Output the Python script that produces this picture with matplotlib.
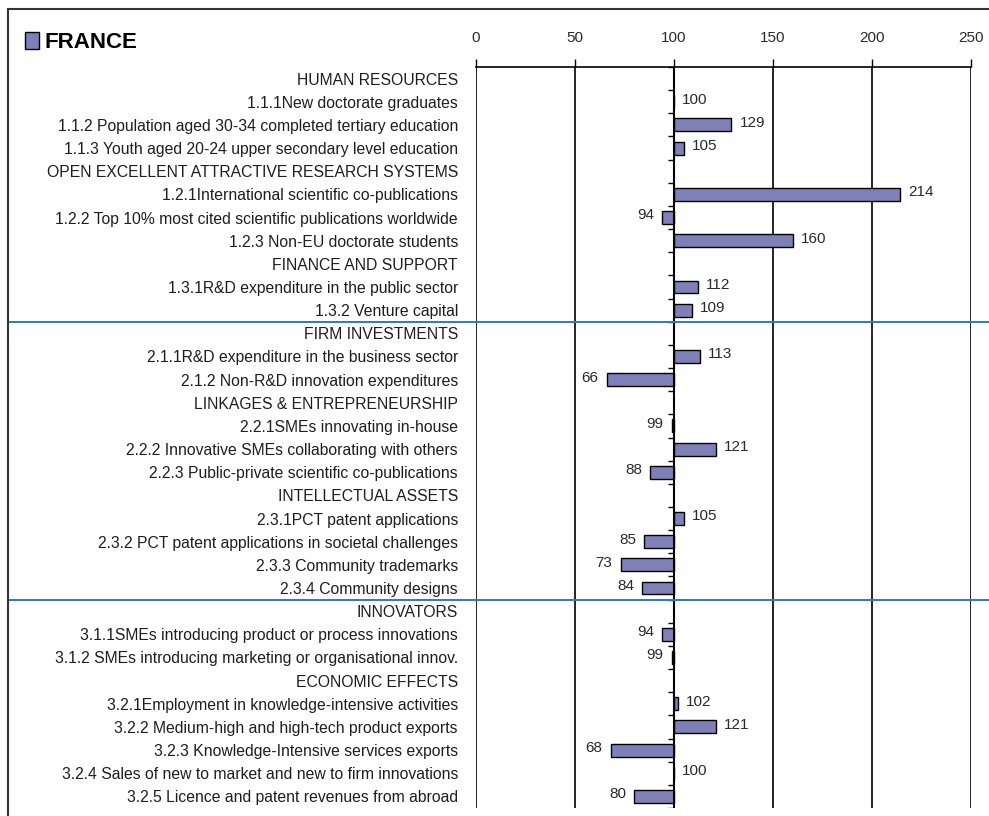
import numpy as np
import matplotlib
matplotlib.use("Agg")
import matplotlib.pyplot as plt
from matplotlib.patches import Rectangle
from matplotlib.transforms import blended_transform_factory

plt.rcParams['font.family'] = ['Liberation Sans', 'DejaVu Sans']

# Indicator labels (section headers have no value)
labels = [
    "HUMAN RESOURCES",
    "1.1.1New doctorate graduates",
    "1.1.2 Population aged 30-34 completed tertiary education",
    "1.1.3 Youth aged 20-24 upper secondary level education",
    "OPEN EXCELLENT ATTRACTIVE RESEARCH SYSTEMS",
    "1.2.1International scientific co-publications",
    "1.2.2 Top 10% most cited scientific publications worldwide",
    "1.2.3 Non-EU doctorate students",
    "FINANCE AND SUPPORT",
    "1.3.1R&D expenditure in the public sector",
    "1.3.2 Venture capital",
    "FIRM INVESTMENTS",
    "2.1.1R&D expenditure in the business sector",
    "2.1.2 Non-R&D innovation expenditures",
    "LINKAGES & ENTREPRENEURSHIP",
    "2.2.1SMEs innovating in-house",
    "2.2.2 Innovative SMEs collaborating with others",
    "2.2.3 Public-private scientific co-publications",
    "INTELLECTUAL ASSETS",
    "2.3.1PCT patent applications",
    "2.3.2 PCT patent applications in societal challenges",
    "2.3.3 Community trademarks",
    "2.3.4 Community designs",
    "INNOVATORS",
    "3.1.1SMEs introducing product or process innovations",
    "3.1.2 SMEs introducing marketing or organisational innov.",
    "ECONOMIC EFFECTS",
    "3.2.1Employment in knowledge-intensive activities",
    "3.2.2 Medium-high and high-tech product exports",
    "3.2.3 Knowledge-Intensive services exports",
    "3.2.4 Sales of new to market and new to firm innovations",
    "3.2.5 Licence and patent revenues from abroad",
]

values = [None, 100, 129, 105,
          None, 214, 94, 160,
          None, 112, 109,
          None, 113, 66,
          None, 99, 121, 88,
          None, 105, 85, 73, 84,
          None, 94, 99,
          None, 102, 121, 68, 100, 80]

# headers that start a new pillar (blue separator above them)
pillar_starts = ["FIRM INVESTMENTS", "INNOVATORS"]

country = "FRANCE"
baseline = 100
xticks = [0, 50, 100, 150, 200, 250]

bar_color = "#8080B8"
txt_color = "#1e1e1e"

rows = np.arange(len(labels))
vals = np.array([np.nan if v is None else v for v in values], dtype=float)

fig = plt.figure(figsize=(9.89, 8.16), dpi=100)
ax = fig.add_axes([476 / 989, 1 - 808 / 816, 495 / 989, (808 - 67) / 816])

bars = ax.barh(rows, vals - baseline, left=baseline, height=0.56,
               color=bar_color, edgecolor="black", linewidth=1.0,
               label=country, zorder=3)

# value labels
for i, v in enumerate(vals):
    if np.isnan(v):
        continue
    if v >= baseline:
        ax.annotate(f"{v:.0f}", (v, i), xytext=(6, 1.5), textcoords="offset points",
                    ha="left", va="center", fontsize=11, color="#2a2a2a")
    else:
        ax.annotate(f"{v:.0f}", (v, i), xytext=(-6, 1.5), textcoords="offset points",
                    ha="right", va="center", fontsize=11, color="#2a2a2a")

ax.set_xlim(0, 250)
ax.set_ylim(len(labels) - 0.5, -0.5)

ax.xaxis.tick_top()
ax.set_xticks(xticks)
ax.tick_params(axis="x", direction="out", length=6, width=1, pad=10,
               labelsize=11, colors="black", labelcolor="#2a2a2a")
ax.grid(axis="x", color="black", linewidth=1.2, zorder=1)

ax.set_yticks(rows)
ax.set_yticklabels(labels, fontsize=11.3, color=txt_color)
ax.tick_params(axis="y", length=0, pad=13)

for s in ["left", "right", "bottom"]:
    ax.spines[s].set_visible(False)
ax.spines["top"].set_linewidth(1.2)

# category axis at 100 with small ticks between rows
ax.axvline(baseline, color="black", linewidth=1.5, zorder=4)
ax.hlines(np.arange(-0.5, len(labels)), baseline - 3, baseline,
          color="black", linewidth=1, zorder=4)

# blue pillar separators across the whole figure
trans = blended_transform_factory(fig.transFigure, ax.transData)
for name in pillar_starts:
    y = labels.index(name) - 0.5
    ax.plot([10 / 989, 1.0], [y, y], transform=trans, color="#2f78c4",
            linewidth=1.4, clip_on=False, zorder=5)

# legend as title
fig.legend(handles=[bars], loc="upper left", bbox_to_anchor=(0.005, 0.985),
           frameon=False, prop={"weight": "bold", "size": 16},
           handlelength=0.65, handleheight=0.8, handletextpad=0.25)

# outer frame
fig.add_artist(Rectangle((8 / 989, -0.01), 1.0, 1 - 9 / 816 + 0.01,
                         transform=fig.transFigure, fill=False,
                         edgecolor="#333333", linewidth=1.5, clip_on=False))

fig.savefig("out.png", dpi=100)
